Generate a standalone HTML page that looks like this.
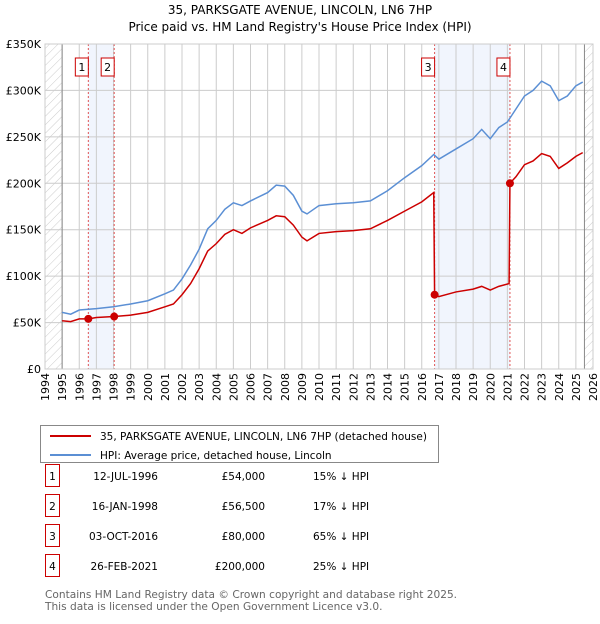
<!DOCTYPE html>
<html><head><meta charset="utf-8"><style>
body{margin:0;background:#fff;font-family:"DejaVu Sans","Liberation Sans",sans-serif;}
svg text{font-family:"DejaVu Sans","Liberation Sans",sans-serif;}
</style></head><body>
<svg id="c" width="600" height="620" viewBox="0 0 600 620" xmlns="http://www.w3.org/2000/svg">
<defs><pattern id="hatch" width="6" height="6" patternUnits="userSpaceOnUse" patternTransform="rotate(45)"><line x1="0" y1="0" x2="0" y2="6" stroke="#ccc" stroke-width="1"/></pattern></defs>
<text x="300" y="14" text-anchor="middle" font-size="12">35, PARKSGATE AVENUE, LINCOLN, LN6 7HP</text>
<text x="300" y="31" text-anchor="middle" font-size="12">Price paid vs. HM Land Registry's House Price Index (HPI)</text>
<g id="plot"></g>
<g>
<rect x="40.5" y="425.5" width="398" height="37" fill="#fff" stroke="#888"/>
<line x1="50" y1="436" x2="91" y2="436" stroke="#cc0000" stroke-width="2"/>
<text x="100" y="440" font-size="10.5">35, PARKSGATE AVENUE, LINCOLN, LN6 7HP (detached house)</text>
<line x1="50" y1="455" x2="91" y2="455" stroke="#5b8fd4" stroke-width="2"/>
<text x="100" y="459" font-size="10.5">HPI: Average price, detached house, Lincoln</text>
</g>
<g id="table" font-size="10.5"></g>
<text x="45" y="598" font-size="10.6" fill="#666">Contains HM Land Registry data © Crown copyright and database right 2025.</text>
<text x="45" y="610" font-size="10.6" fill="#666">This data is licensed under the Open Government Licence v3.0.</text>
</svg>
<script>
const hpiYears=[1995,1995.5,1996,1997,1998,1999,2000,2001,2001.5,2002,2002.5,2003,2003.5,2004,2004.5,2005,2005.5,2006,2007,2007.5,2008,2008.5,2009,2009.3,2010,2011,2012,2013,2014,2015,2016,2016.7,2017,2018,2019,2019.5,2020,2020.5,2021,2021.5,2022,2022.5,2023,2023.5,2024,2024.5,2025,2025.4];
const hpiValues=[61,59,63.5,65,67,70,73.5,81,85,97,112,129,151,160,172,179,176,181,190,198,197,187,170,167,176,178,179,181,192,206,219,231,226,237,248,258,248,260,266,280,294,300,310,305,289,294,305,309];
const redYears=[1995,1995.5,1996,1996.54,1997,1998.04,1999,2000,2001,2001.5,2002,2002.5,2003,2003.5,2004,2004.5,2005,2005.5,2006,2007,2007.5,2008,2008.5,2009,2009.3,2010,2011,2012,2013,2014,2015,2016,2016.7,2016.75,2017,2018,2019,2019.5,2020,2020.5,2021.1,2021.15,2021.5,2022,2022.5,2023,2023.5,2024,2024.5,2025,2025.4];
const redValues=[52,51,54,54,55.5,56.5,58,61,67,70,80,92,108,127,135,145,150,146,152,160,165,164,155,142,138,146,148,149,151,160,170,180,190,80,78,83,86,89,85,89,92,200,207,220,224,232,229,216,222,229,233];
const saleYears=[1996.53,1998.04,2016.75,2021.15];
const saleValues=[54,56.5,80,200];
const saleLabels=["1","2","3","4"];
const saleDates=["12-JUL-1996","16-JAN-1998","03-OCT-2016","26-FEB-2021"];
const salePrices=["£54,000","£56,500","£80,000","£200,000"];
const saleHpi=["15% ↓ HPI","17% ↓ HPI","65% ↓ HPI","25% ↓ HPI"];
const yTicks=[0,50,100,150,200,250,300,350];
const yTickLabels=["£0","£50K","£100K","£150K","£200K","£250K","£300K","£350K"];

const X0=45,X1=593,Y0=369,Y1=44;
const x=y=>X0+(y-1994)/(2026-1994)*(X1-X0);
const yv=v=>Y0-v/350*(Y0-Y1);
const NS="http://www.w3.org/2000/svg";
const plot=document.getElementById('plot');
function mk(tag,attrs,parent){const e=document.createElementNS(NS,tag);for(const k in attrs)e.setAttribute(k,attrs[k]);(parent||plot).appendChild(e);return e;}
let h1=mk('rect',{x:X0,y:Y1,width:x(1995)-X0,height:Y0-Y1,fill:'url(#hatch)'});


let h2=mk('rect',{x:x(2025.5),y:Y1,width:X1-x(2025.5),height:Y0-Y1,fill:'url(#hatch)'});


[[0,1],[2,3]].forEach(p=>{
 const b=mk('rect',{x:x(saleYears[p[0]]),y:Y1,width:x(saleYears[p[1]])-x(saleYears[p[0]]),height:Y0-Y1,fill:'#eef3fc',opacity:0.8});
 
 
});
for(let yr=1994;yr<=2026;yr++){
 const g=mk('line',{x1:x(yr),x2:x(yr),y1:Y1,y2:Y0,stroke:'#ccc','stroke-width':1});
 
 
 const t=mk('text',{x:0,y:0,'font-size':11,'text-anchor':'end',transform:`translate(${x(yr)+4},${Y0+4}) rotate(-90)`});
 t.textContent=yr;
 
 
}
yTicks.forEach((v,i)=>{
 const g=mk('line',{x1:X0,x2:X1,y1:yv(v),y2:yv(v),stroke:'#ccc','stroke-width':1});
 
 
 const t=mk('text',{x:X0-4,y:yv(v)+4,'font-size':11,'text-anchor':'end'});
 t.textContent=yTickLabels[i];
 
 
});
mk('line',{x1:x(1995),x2:x(1995),y1:Y1,y2:Y0,stroke:'#888'});
mk('line',{x1:x(2025.5),x2:x(2025.5),y1:Y1,y2:Y0,stroke:'#888'});
saleYears.forEach((s,i)=>{
 const l=mk('line',{x1:x(s),x2:x(s),y1:Y1,y2:Y0,stroke:'#e05555','stroke-dasharray':'2,2','stroke-width':1});
 
 
 const bx=mk('rect',{x:x(s)-13,y:58,width:13,height:18,fill:'#fff',stroke:'#cc0000'});
 
 
 const t=mk('text',{x:x(s)-6.5,y:71,'font-size':11,'text-anchor':'middle'});
 t.textContent=saleLabels[i];
 
 
});
const hp=mk('polyline',{points:hpiYears.map((y,i)=>x(y)+','+yv(hpiValues[i])).join(' '),fill:'none',stroke:'#5b8fd4','stroke-width':1.5});


const rp=mk('polyline',{points:redYears.map((y,i)=>x(y)+','+yv(redValues[i])).join(' '),fill:'none',stroke:'#cc0000','stroke-width':1.5});


saleYears.forEach((s,i)=>{
 const c=mk('circle',{cx:x(s),cy:yv(saleValues[i]),r:4,fill:'#cc0000'});
 
 
});
mk('rect',{x:X0,y:Y1,width:X1-X0,height:Y0-Y1,fill:'none',stroke:'#ccc'});
const tb=document.getElementById('table');
saleYears.forEach((s,i)=>{
 const ry=483+i*30;
 const b=mk('rect',{x:45.5,y:ry-18.5,width:14,height:22,fill:'#fff',stroke:'#cc0000'},tb);
 
 
 const t0=mk('text',{x:52.5,y:ry-3,'text-anchor':'middle'},tb);t0.textContent=saleLabels[i];
 
 
 const t1=mk('text',{x:158,y:ry-3,'text-anchor':'end'},tb);t1.textContent=saleDates[i];
 
 
 const t2=mk('text',{x:265,y:ry-3,'text-anchor':'end'},tb);t2.textContent=salePrices[i];
 
 
 const t3=mk('text',{x:313,y:ry-3},tb);t3.textContent=saleHpi[i];
 
 
});
</script>
</body></html>
